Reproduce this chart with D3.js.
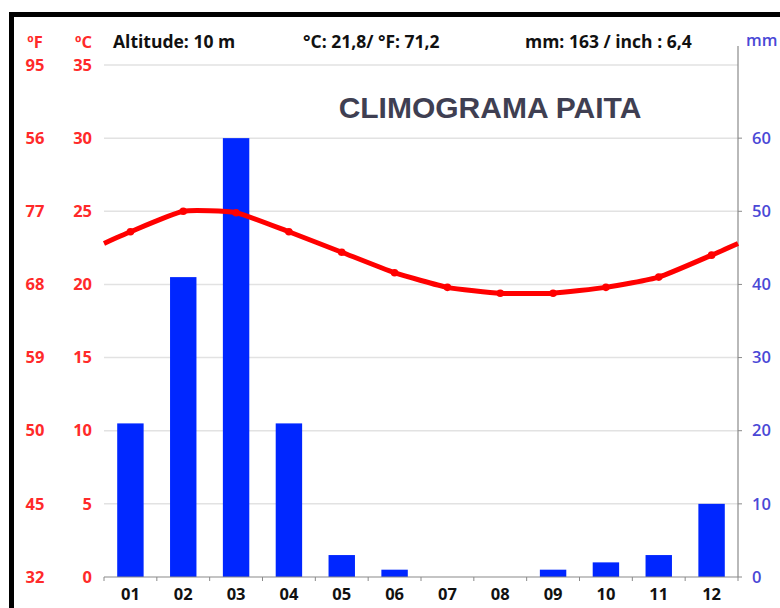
<!DOCTYPE html>
<html lang="es">
<head>
    <meta charset="UTF-8">
    <title>Climograma Paita</title>
    <script src="https://cdn.jsdelivr.net/npm/d3@7"></script>
    <style>
    html,body{
        margin:0;
        padding:0;
        background:#fff;
    }
    svg{
        display:block;
        font-family:"Open Sans",sans-serif;
    }
    .grid line{
        stroke:#e2e2e2;
        stroke-width:1.5;
    }
    </style>
</head>
<body>
<script>
    // data
    const months = ["01","02","03","04","05","06","07","08","09","10","11","12"];
    const precip = [21, 41, 60, 21, 3, 1, 0, 0, 1, 2, 3, 10];          // mm
    const temp = [23.6, 25.0, 24.9, 23.6, 22.2, 20.8, 19.8, 19.4, 19.4, 19.8, 20.5, 22.0]; // ºC
    const celsiusTicks = [0, 5, 10, 15, 20, 25, 30, 35];
    const fahrenheitLabels = ["32", "45", "50", "59", "68", "77", "56", "95"];
    const mmTicks = [0, 10, 20, 30, 40, 50, 60];

    const width = 780, height = 608;
    const plotLeft = 104, plotRight = 738, plotTop = 65, plotBottom = 577;
    const red = "#ff2a2a", blue = "#0026ff", violet = "#4a48d6";
    const labelSize = 16.5;

    const svg = d3.select("body").append("svg")
        .attr("width", width)
        .attr("height", height);

    // frame
    svg.append("rect")
        .attr("x", 11.5).attr("y", 14.5)
        .attr("width", 800).attr("height", 700)
        .attr("fill", "none")
        .attr("stroke", "#000")
        .attr("stroke-width", 5);

    const x = d3.scaleBand().domain(months).range([plotLeft, plotRight]).paddingInner(0);
    const yC = d3.scaleLinear().domain([0, 35]).range([plotBottom, plotTop]);
    const yMM = d3.scaleLinear().domain([0, 70]).range([plotBottom, plotTop]);

    // gridlines
    svg.append("g").attr("class", "grid")
        .selectAll("line")
        .data(celsiusTicks.filter(d => d > 0))
        .join("line")
        .attr("x1", plotLeft).attr("x2", plotRight)
        .attr("y1", d => yC(d)).attr("y2", d => yC(d));

    // bars
    const barW = x.bandwidth() * 0.5;
    svg.append("g")
        .selectAll("rect")
        .data(months)
        .join("rect")
        .attr("x", (d) => x(d) + (x.bandwidth() - barW) / 2)
        .attr("y", (d, i) => yMM(precip[i]))
        .attr("width", barW)
        .attr("height", (d, i) => yMM(0) - yMM(precip[i]))
        .attr("fill", blue);

    // bottom axis
    const xAxis = svg.append("g").attr("transform", `translate(0,${plotBottom})`);
    xAxis.append("line")
        .attr("x1", plotLeft).attr("x2", plotRight)
        .attr("stroke", "#8a8a8a").attr("stroke-width", 1.2);
    xAxis.selectAll(".tk")
        .data(months.concat(["end"]))
        .join("line")
        .attr("class", "tk")
        .attr("x1", (d, i) => i < months.length ? x(d) : plotRight)
        .attr("x2", (d, i) => i < months.length ? x(d) : plotRight)
        .attr("y1", 0).attr("y2", 4)
        .attr("stroke", "#8a8a8a");
    xAxis.selectAll("text")
        .data(months)
        .join("text")
        .attr("x", d => x(d) + x.bandwidth() / 2)
        .attr("y", 23)
        .attr("text-anchor", "middle")
        .attr("font-size", labelSize)
        .attr("font-weight", 700)
        .attr("fill", "#111")
        .text(d => d);

    // right axis (mm)
    const yAxisR = svg.append("g").attr("transform", `translate(${plotRight},0)`);
    yAxisR.append("line")
        .attr("y1", 46).attr("y2", plotBottom)
        .attr("stroke", "#8a8a8a").attr("stroke-width", 1.2);
    yAxisR.selectAll(".tk")
        .data(mmTicks)
        .join("line")
        .attr("class", "tk")
        .attr("x1", 0).attr("x2", 4)
        .attr("y1", d => yMM(d)).attr("y2", d => yMM(d))
        .attr("stroke", "#8a8a8a");
    yAxisR.selectAll("text")
        .data(mmTicks)
        .join("text")
        .attr("x", 14)
        .attr("y", d => yMM(d))
        .attr("dy", "0.35em")
        .attr("font-size", labelSize)
        .attr("font-weight", 600)
        .attr("fill", violet)
        .text(d => d);

    // left labels ºC and ºF
    svg.append("g").selectAll("text")
        .data(celsiusTicks)
        .join("text")
        .attr("x", 92)
        .attr("y", d => yC(d))
        .attr("dy", "0.35em")
        .attr("text-anchor", "end")
        .attr("font-size", labelSize)
        .attr("font-weight", 700)
        .attr("fill", red)
        .text(d => d);
    svg.append("g").selectAll("text")
        .data(fahrenheitLabels)
        .join("text")
        .attr("x", 35)
        .attr("y", (d, i) => yC(celsiusTicks[i]))
        .attr("dy", "0.35em")
        .attr("text-anchor", "middle")
        .attr("font-size", labelSize)
        .attr("font-weight", 700)
        .attr("fill", red)
        .text(d => d);

    // temperature line, wrapped at both ends (Dec/Jan average)
    const edge = (temp[0] + temp[11]) / 2;
    const pts = [[plotLeft, edge]]
        .concat(months.map((m, i) => [x(m) + x.bandwidth() / 2, temp[i]]))
        .concat([[plotRight, edge]]);
    const line = d3.line()
        .x(d => d[0])
        .y(d => yC(d[1]))
        .curve(d3.curveCardinal.tension(0.5));
    svg.append("path")
        .datum(pts)
        .attr("d", line)
        .attr("fill", "none")
        .attr("stroke", "#ff0000")
        .attr("stroke-width", 5)
        .attr("stroke-linejoin", "round");
    svg.append("g").selectAll("circle")
        .data(months)
        .join("circle")
        .attr("cx", d => x(d) + x.bandwidth() / 2)
        .attr("cy", (d, i) => yC(temp[i]))
        .attr("r", 3.8)
        .attr("fill", "#ff0000");

    // header texts
    const header = svg.append("g").attr("font-size", labelSize).attr("font-weight", 700);
    header.append("text").attr("x", 35).attr("y", 48).attr("text-anchor", "middle").attr("fill", red).text("ºF");
    header.append("text").attr("x", 92).attr("y", 48).attr("text-anchor", "end").attr("fill", red).text("ºC");
    header.append("text").attr("x", 113).attr("y", 48).attr("font-size", 17.5).attr("fill", "#111").text("Altitude: 10 m");
    header.append("text").attr("x", 303).attr("y", 48).attr("font-size", 17.5).attr("fill", "#111").text("°C: 21,8/ °F: 71,2");
    header.append("text").attr("x", 525).attr("y", 48).attr("font-size", 17.5).attr("fill", "#111").text("mm: 163 / inch : 6,4");
    header.append("text").attr("x", 746).attr("y", 46).attr("fill", violet).attr("font-weight", 600).text("mm");

    // title
    svg.append("text")
        .attr("x", 490).attr("y", 118)
        .attr("text-anchor", "middle")
        .attr("font-family", "'Liberation Sans', Arial, sans-serif")
        .attr("font-size", 30)
        .attr("font-weight", 700)
        .attr("fill", "#3f3f52")
        .text("CLIMOGRAMA PAITA");
</script>
</body>
</html>
